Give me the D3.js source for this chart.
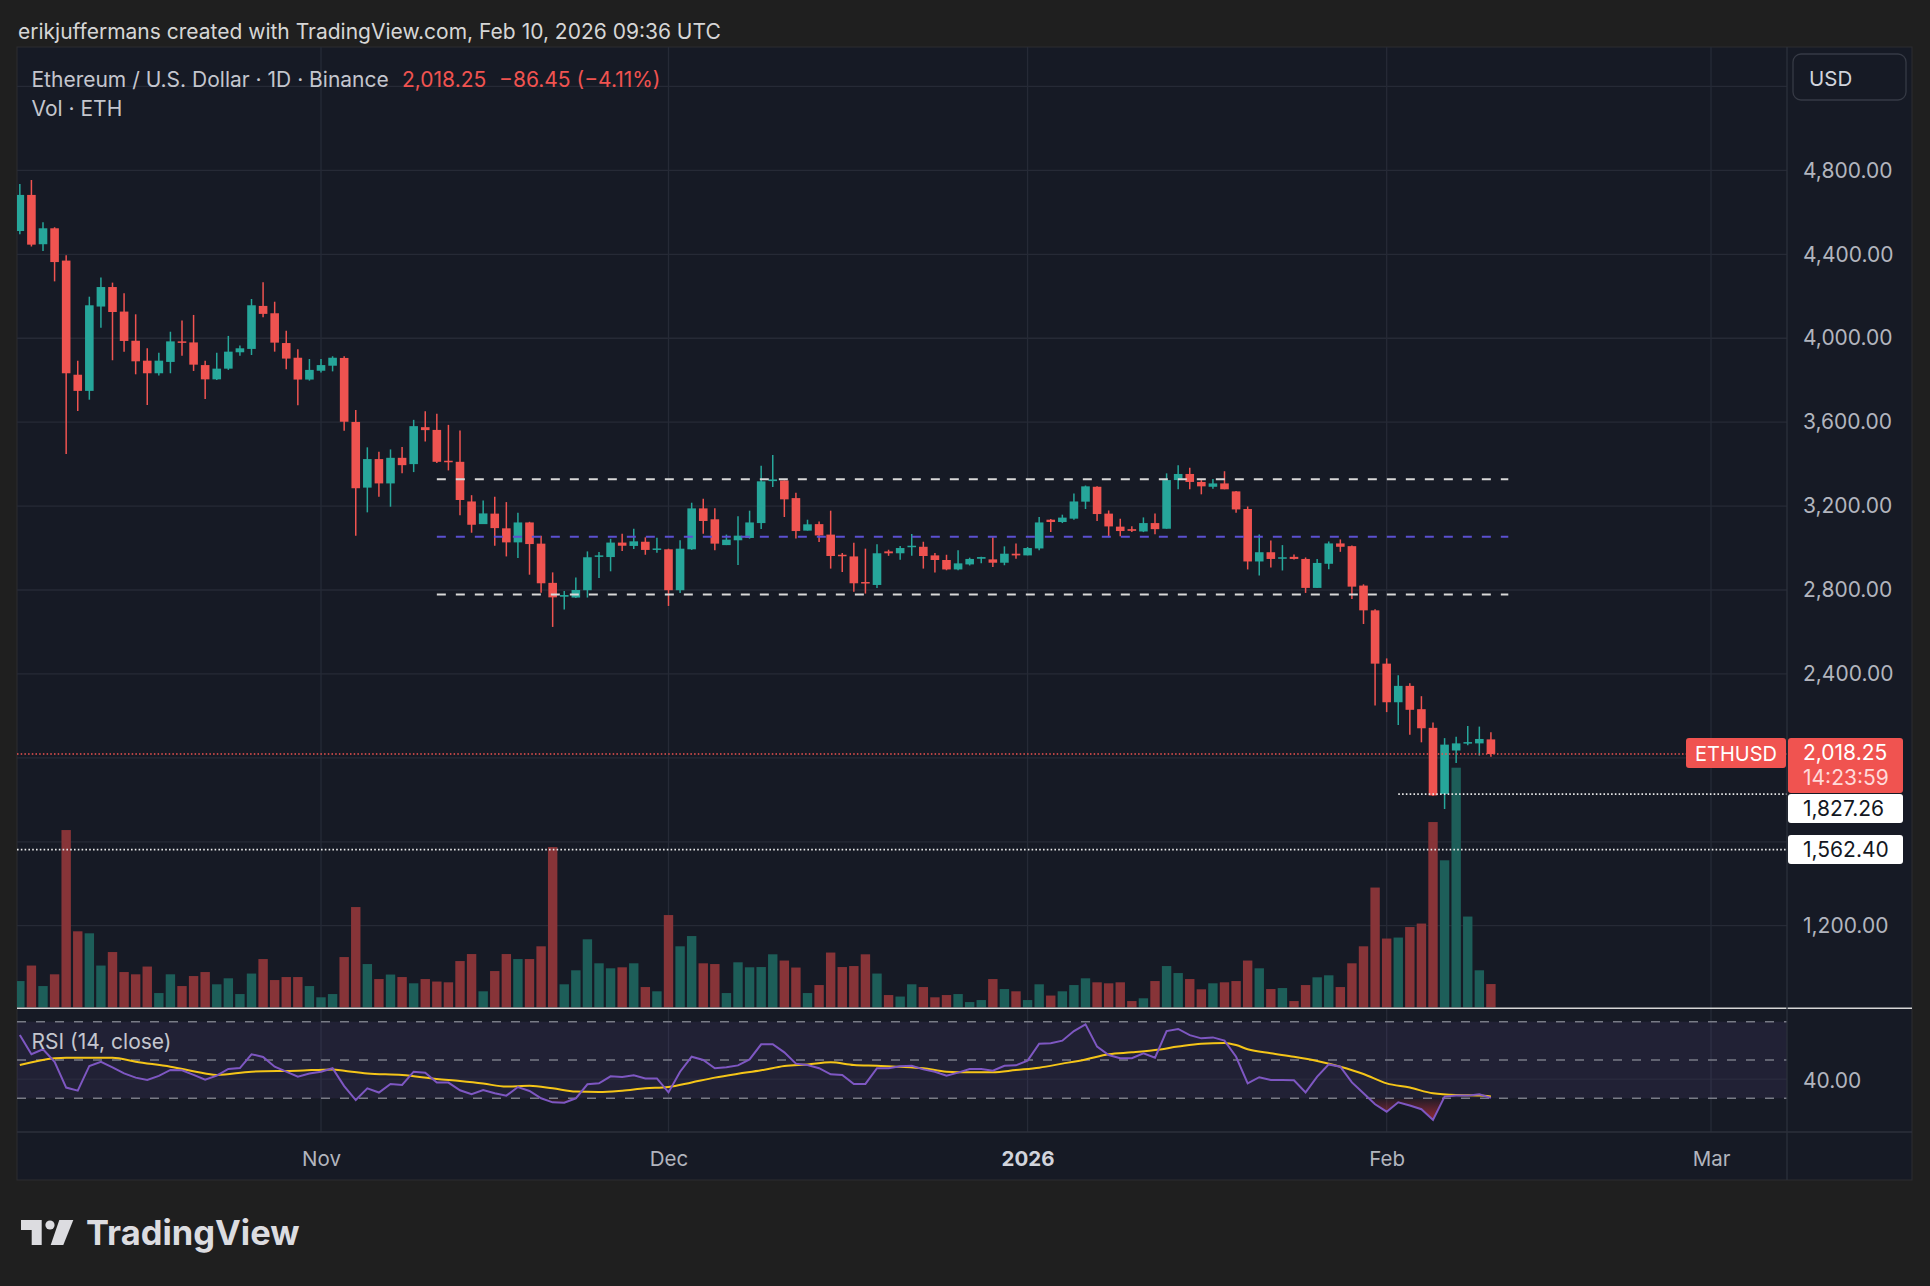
<!DOCTYPE html>
<html><head><meta charset="utf-8">
<script src="https://cdn.jsdelivr.net/npm/d3@7"></script>
<style>
html,body{margin:0;padding:0;background:#1f1f1f;}
svg{display:block;}
text{font-family:Inter,"Noto Sans",Roboto,sans-serif;}
</style>
</head><body>
<svg id="chart" width="1930" height="1286"></svg>
<script>
// ---------------- DATA ----------------
const startDate = "2025-10-06";   // first daily candle
const opens  = [4511,4683,4448,4524,4370,3826,3749,4151,4244,4127,3988,3893,3833,3887,3985,3980,3872,3804,3855,3933,3949,4154,4119,3977,3907,3803,3845,3869,3906,3601,3288,3424,3308,3430,3400,3576,3563,3416,3411,3222,3114,3164,3094,3027,3122,3021,2834,2768,2764,2799,2959,2957,3026,3010,3030,2991,2994,2799,2994,3189,3137,3014,3037,3048,3119,3319,3322,3238,3083,3114,3064,2968,2960,2838,2824,2984,2975,3005,3006,2965,2943,2898,2922,2949,2946,2930,2973,2965,2998,3135,3124,3140,3221,3292,3164,3102,3090,3079,3119,3092,3324,3353,3315,3292,3308,3270,3186,2936,2980,2950,2958,2948,2810,2925,3022,3009,2821,2703,2449,2265,2343,2232,2143,1828,2035,2069,2069,2088];
const highs  = [4735,4754,4553,4529,4395,3893,4198,4290,4265,4214,4114,3952,3931,4031,4085,4111,3893,3931,4011,3965,4187,4267,4174,4036,3947,3901,3901,3914,3914,3658,3480,3459,3470,3481,3611,3652,3640,3587,3560,3252,3227,3245,3219,3168,3125,3059,2884,2795,2860,2984,2981,3044,3068,3092,3051,3049,2997,3037,3216,3235,3190,3064,3152,3178,3392,3444,3322,3264,3135,3127,3178,2976,3025,2997,3018,2992,3010,3067,3030,2976,2968,2989,2954,2959,3052,3008,3022,3005,3148,3138,3159,3260,3298,3295,3179,3140,3104,3146,3165,3356,3394,3383,3324,3329,3366,3272,3198,3065,3036,3014,2969,2955,2948,3031,3041,3012,2827,2708,2474,2394,2356,2294,2168,2094,2101,2152,2149,2122];
const lows   = [4495,4437,4416,4271,3448,3653,3707,4050,3895,3936,3828,3682,3822,3833,3917,3844,3710,3801,3849,3917,3920,4100,3936,3852,3680,3798,3837,3842,3559,3059,3170,3245,3197,3357,3362,3508,3405,3370,3156,3073,3114,3011,2960,2952,2873,2787,2624,2707,2762,2764,2857,2889,2986,2995,2968,2978,2724,2786,2991,3068,2989,3014,2919,3045,3091,3291,3148,3045,3083,3029,2902,2886,2792,2783,2810,2963,2944,2963,2902,2884,2894,2894,2917,2927,2910,2918,2949,2965,2989,3076,3119,3135,3186,3129,3052,3056,3077,3076,3066,3092,3280,3280,3256,3283,3280,3168,2898,2869,2907,2893,2945,2786,2810,2899,2982,2757,2638,2250,2218,2157,2110,2074,1818,1756,1976,2060,2011,2005];
const closes = [4683,4446,4524,4363,3833,3749,4157,4244,4125,3987,3890,3833,3893,3985,3979,3874,3804,3855,3936,3952,4157,4116,3979,3903,3803,3849,3872,3907,3602,3285,3424,3308,3430,3395,3581,3562,3411,3410,3229,3111,3165,3095,3027,3122,3019,2832,2765,2776,2800,2956,2965,3026,3011,3032,2991,2998,2799,2997,3189,3129,3021,3040,3059,3122,3318,3327,3232,3081,3113,3060,2962,2962,2832,2832,2975,2975,3000,3011,2962,2943,2898,2927,2948,2957,2930,2973,2965,3000,3122,3124,3145,3222,3294,3162,3103,3081,3082,3119,3090,3324,3353,3315,3294,3308,3280,3184,2936,2980,2948,2956,2948,2810,2929,3022,3006,2816,2703,2449,2265,2343,2229,2141,1821,2063,2069,2075,2090,2018.25];
// daily volume, thousand ETH
const volumes = [210,334,170,264,1418,608,592,334,442,282,264,326,114,264,170,250,282,184,232,106,270,386,218,242,242,170,80,106,402,802,346,226,262,242,192,226,206,200,370,426,128,290,426,386,386,488,1282,184,296,544,352,312,320,352,162,128,738,488,570,352,346,114,360,320,322,424,374,318,114,178,438,322,330,424,270,98,86,184,162,80,98,106,42,58,226,146,128,58,184,94,128,178,232,200,192,200,50,72,210,330,274,226,144,192,200,210,374,312,146,154,50,178,240,256,162,352,488,958,550,558,642,670,1482,1176,1917,726,296,186];
// RSI (14, close)
const rsiValues = [63.0,53.0,55.6,49.1,35.6,34.0,46.9,49.1,46.2,43.0,40.8,39.6,41.7,44.8,44.6,42.2,39.7,41.8,45.3,45.8,53.0,51.6,46.5,43.9,41.3,42.9,43.9,45.7,36.4,29.1,35.2,33.0,37.5,37.0,43.9,43.4,38.3,38.2,34.2,32.1,34.3,32.6,31.4,35.9,33.8,30.0,27.9,27.7,30.0,37.3,37.8,41.5,41.1,42.0,40.4,40.4,33.1,43.9,51.7,50.0,45.7,46.2,47.2,50.3,58.2,58.2,54.0,48.1,47.4,45.7,42.5,42.2,37.5,37.5,45.7,45.7,46.7,47.0,45.1,43.9,41.8,43.4,45.3,45.3,44.4,47.0,47.2,49.7,58.5,58.7,60.1,65.1,68.6,57.0,52.6,50.9,50.9,53.5,51.2,65.1,66.2,63.0,61.3,61.8,60.1,51.7,37.8,41.0,39.6,39.6,39.4,33.1,41.3,47.7,46.5,38.3,32.6,26.9,23.0,27.9,26.2,24.3,18.7,30.9,31.4,31.4,32.1,30.2];
// RSI-based MA (points read where visible)
const rsiMaIndex  = [0,3,4,8,10,13,16,17,20,24,27,28,30,33,36,38,40,42,44,46,48,50,52,54,56,58,60,62,64,66,68,70,72,74,76,78,80,82,84,86,88,90,92,94,96,98,100,102,104,105,106,108,110,112,114,116,118,120,122,124,126,127];
const rsiMaValues = [47.4,50.9,51.2,51.2,49.1,46.5,43.0,42.2,43.9,44.4,45.1,44.4,43.0,42.2,40.1,39.0,37.7,36.1,36.5,35.2,33.5,33.3,34.0,35.2,35.9,38.3,40.8,42.8,44.6,46.9,47.7,48.8,47.4,47.0,46.5,45.7,43.9,43.6,43.6,44.8,46.0,48.1,50.3,53.0,54.0,55.2,57.0,58.5,58.9,57.8,55.6,53.5,51.7,49.5,46.5,42.7,37.8,35.6,32.6,31.7,31.5,31.0];
// price axis ticks and grid
const priceTicks = [5200,4800,4400,4000,3600,3200,2800,2400,2000,1600,1200];
const priceLabelTicks = [4800,4400,4000,3600,3200,2800,2400,1200];
const monthTicks  = ["2025-11-01","2025-12-01","2026-01-01","2026-02-01","2026-03-01"];
const monthLabels = ["Nov","Dec","2026","Feb","Mar"];
const rsiLevels = [70,50,30];
const rsiLabelTicks = [40];
// drawn horizontal range levels
const rangeLevelPrices = [3328,3054,2779];
const rangeLevelColors = ["#d8d8d8","#5b50d0","#d8d8d8"];
const rangeStart = "2025-11-11", rangeEnd = "2026-02-11T12:00:00Z";
const lastPrice = 2018.25, lastChange = -86.45, lastChangePct = -4.11;
const countdown = "14:23:59";
const lowMark1 = 1827.26, lowMark1Start = "2026-02-02";
const lowMark2 = 1562.40;

// ---------------- LAYOUT ----------------
const W = 1930, H = 1286;
const P = {left:17, top:47, right:1912, bottom:1180};
const plotRight = 1787;
const pricePaneBottom = 1008.3;
const rsiTop = 1010, rsiBottom = 1132;
const UP = "#26a69a", DOWN = "#ef5350";
const UPV = "#1d5e59", DOWNV = "#873438";
const GRID = "#262a36";
const TXT = "#b2b5be";

const svg = d3.select("#chart");
const defs = svg.append("defs");

const parse = s => new Date(s.length === 10 ? s + "T00:00:00Z" : s);
const day0 = parse(startDate);
const dates = closes.map((_, i) => d3.utcDay.offset(day0, i));

const x = d3.scaleUtc().domain([parse("2025-11-01"), parse("2026-03-01")]).range([321, 1711]);
const yP = d3.scaleLinear().domain([4400, 2800]).range([254.3, 590]);
const yV = d3.scaleLinear().domain([0, 1000]).range([1007.3, 882.3]);
const yR = d3.scaleLinear().domain([30, 70]).range([1098.3, 1021.7]);

// background
svg.append("rect").attr("width", W).attr("height", H).attr("fill", "#1f1f1f");
svg.append("rect").attr("x", P.left).attr("y", P.top).attr("width", P.right - P.left).attr("height", P.bottom - P.top)
  .attr("fill", "#161a25").attr("stroke", "#2c2c30").attr("stroke-width", 1);

// clip paths
defs.append("clipPath").attr("id", "clipPrice").append("rect")
  .attr("x", P.left).attr("y", P.top).attr("width", plotRight - P.left).attr("height", pricePaneBottom - P.top);
defs.append("clipPath").attr("id", "clipRsi").append("rect")
  .attr("x", P.left).attr("y", rsiTop).attr("width", plotRight - P.left).attr("height", rsiBottom - rsiTop);

// grid lines
const grid = svg.append("g");
grid.selectAll("line.h").data(priceTicks).join("line")
  .attr("x1", P.left).attr("x2", plotRight).attr("y1", d => yP(d)).attr("y2", d => yP(d))
  .attr("stroke", GRID).attr("stroke-width", 1.3);
grid.selectAll("line.v").data(monthTicks.map(parse)).join("line")
  .attr("x1", d => x(d)).attr("x2", d => x(d)).attr("y1", P.top).attr("y2", rsiBottom)
  .attr("stroke", GRID).attr("stroke-width", 1.3);

// RSI band
const rsiG = svg.append("g").attr("clip-path", "url(#clipRsi)");
rsiG.append("rect").attr("x", P.left).attr("width", plotRight - P.left)
  .attr("y", yR(70)).attr("height", yR(30) - yR(70)).attr("fill", "rgba(126,87,194,0.11)");
rsiG.selectAll("line.g40").data(rsiLabelTicks).join("line")
  .attr("x1", P.left).attr("x2", plotRight).attr("y1", d => yR(d)).attr("y2", d => yR(d))
  .attr("stroke", "#2d2f40").attr("stroke-width", 1);
rsiG.selectAll("line.lv").data(rsiLevels).join("line")
  .attr("x1", P.left).attr("x2", plotRight).attr("y1", d => yR(d)).attr("y2", d => yR(d))
  .attr("stroke", "#787b86").attr("stroke-width", 1.5).attr("stroke-dasharray", "9,10");

// oversold fill
const grad = defs.append("linearGradient").attr("id", "osGrad").attr("gradientUnits", "userSpaceOnUse")
  .attr("x1", 0).attr("x2", 0).attr("y1", yR(30)).attr("y2", yR(15));
grad.append("stop").attr("offset", 0).attr("stop-color", "#f23645").attr("stop-opacity", 0.05);
grad.append("stop").attr("offset", 1).attr("stop-color", "#f23645").attr("stop-opacity", 0.75);
defs.append("clipPath").attr("id", "clipOS").append("rect")
  .attr("x", P.left).attr("y", yR(30)).attr("width", plotRight - P.left).attr("height", rsiBottom - yR(30));
rsiG.append("g").attr("clip-path", "url(#clipOS)").append("path")
  .attr("d", d3.area().x((d, i) => x(dates[i])).y0(yR(30)).y1(d => yR(d))(rsiValues))
  .attr("fill", "url(#osGrad)");

rsiG.append("path")
  .attr("d", d3.line().x((d, i) => x(dates[rsiMaIndex[i]])).y(d => yR(d)).curve(d3.curveMonotoneX)(rsiMaValues))
  .attr("fill", "none").attr("stroke", "#f5c518").attr("stroke-width", 2);
rsiG.append("path")
  .attr("d", d3.line().x((d, i) => x(dates[i])).y(d => yR(d))(rsiValues))
  .attr("fill", "none").attr("stroke", "#7e57c2").attr("stroke-width", 2);

// price pane
const pg = svg.append("g").attr("clip-path", "url(#clipPrice)");
const bw = 8.6;
// volume
pg.selectAll("rect.vol").data(volumes).join("rect")
  .attr("x", (d, i) => x(dates[i]) - 4.7).attr("width", 9.4)
  .attr("y", d => yV(d)).attr("height", d => yV(0) - yV(d))
  .attr("fill", (d, i) => closes[i] >= opens[i] ? UPV : DOWNV);

// candles
const cg = pg.append("g");
const idx = d3.range(closes.length);
cg.selectAll("line.wick").data(idx).join("line")
  .attr("x1", i => x(dates[i])).attr("x2", i => x(dates[i]))
  .attr("y1", i => yP(highs[i])).attr("y2", i => yP(lows[i]))
  .attr("stroke", i => closes[i] >= opens[i] ? UP : DOWN).attr("stroke-width", 1.5);
cg.selectAll("rect.body").data(idx).join("rect")
  .attr("x", i => x(dates[i]) - bw / 2).attr("width", bw)
  .attr("y", i => yP(Math.max(opens[i], closes[i])))
  .attr("height", i => Math.max(1.5, Math.abs(yP(opens[i]) - yP(closes[i]))))
  .attr("fill", i => closes[i] >= opens[i] ? UP : DOWN);

// range levels
pg.selectAll("line.rl").data(rangeLevelPrices).join("line")
  .attr("x1", x(parse(rangeStart))).attr("x2", x(parse(rangeEnd)))
  .attr("y1", d => yP(d)).attr("y2", d => yP(d))
  .attr("stroke", (d, i) => rangeLevelColors[i]).attr("stroke-width", 2).attr("stroke-dasharray", "9,10");

// price lines
pg.append("line").attr("x1", P.left).attr("x2", plotRight).attr("y1", yP(lastPrice)).attr("y2", yP(lastPrice))
  .attr("stroke", DOWN).attr("stroke-width", 1.5).attr("stroke-dasharray", "1.5,2.2");
pg.append("line").attr("x1", x(parse(lowMark1Start))).attr("x2", plotRight).attr("y1", yP(lowMark1)).attr("y2", yP(lowMark1))
  .attr("stroke", "#e8e8e8").attr("stroke-width", 1.6).attr("stroke-dasharray", "1.6,2.2");
pg.append("line").attr("x1", P.left).attr("x2", plotRight).attr("y1", yP(lowMark2)).attr("y2", yP(lowMark2))
  .attr("stroke", "#e8e8e8").attr("stroke-width", 1.6).attr("stroke-dasharray", "1.6,2.2");

// pane separators
svg.append("line").attr("x1", P.left).attr("x2", P.right).attr("y1", pricePaneBottom).attr("y2", pricePaneBottom)
  .attr("stroke", "#d6d6d6").attr("stroke-width", 1.6);
svg.append("line").attr("x1", P.left).attr("x2", P.right).attr("y1", rsiBottom).attr("y2", rsiBottom)
  .attr("stroke", "#2c303b").attr("stroke-width", 1.3);
svg.append("line").attr("x1", plotRight).attr("x2", plotRight).attr("y1", P.top).attr("y2", P.bottom)
  .attr("stroke", "#2c303b").attr("stroke-width", 1.3);

// price axis
const pAxis = svg.append("g").attr("transform", `translate(${plotRight},0)`)
  .call(d3.axisRight(yP).tickValues(priceLabelTicks).tickFormat(d3.format(",.2f")).tickSize(0).tickPadding(16));
pAxis.select(".domain").remove();
pAxis.selectAll("text").attr("fill", TXT).style("font-size", "21px");

// RSI axis
const rAxis = svg.append("g").attr("transform", `translate(${plotRight},0)`)
  .call(d3.axisRight(yR).tickValues(rsiLabelTicks).tickFormat(d3.format(".2f")).tickSize(0).tickPadding(16));
rAxis.select(".domain").remove();
rAxis.selectAll("text").attr("fill", TXT).style("font-size", "21px").attr("dy", "0.42em");

// time axis
const tAxis = svg.append("g").attr("transform", `translate(0,${rsiBottom})`)
  .call(d3.axisBottom(x).tickValues(monthTicks.map(parse)).tickFormat((d, i) => monthLabels[i]).tickSize(0).tickPadding(19.5));
tAxis.select(".domain").remove();
tAxis.selectAll("text").attr("fill", TXT).style("font-size", "20.5px")
  .style("font-weight", (d, i) => monthLabels[i] === "2026" ? 700 : 400)
  .attr("fill", (d, i) => monthLabels[i] === "2026" ? "#d1d4dc" : TXT);

// labels on the price axis
const fmt = d3.format(",.2f");
const lbl = svg.append("g");
lbl.append("rect").attr("x", 1686).attr("y", 738).attr("width", 100).attr("height", 30).attr("rx", 3).attr("fill", "#f05350");
lbl.append("text").attr("x", 1736).attr("y", 753.5).attr("text-anchor", "middle").attr("dominant-baseline", "central")
  .attr("fill", "#ffffff").style("font-size", "20px").text("ETHUSD");
lbl.append("rect").attr("x", 1788).attr("y", 738).attr("width", 115).attr("height", 55).attr("rx", 3).attr("fill", "#f05350");
lbl.append("text").attr("x", 1803).attr("y", 752).attr("dominant-baseline", "central")
  .attr("fill", "#ffffff").style("font-size", "21px").text(fmt(lastPrice));
lbl.append("text").attr("x", 1803).attr("y", 777).attr("dominant-baseline", "central")
  .attr("fill", "#ffd9d9").style("font-size", "21px").text(countdown);
lbl.append("rect").attr("x", 1788).attr("y", 794).attr("width", 115).attr("height", 29).attr("rx", 3).attr("fill", "#ffffff");
lbl.append("text").attr("x", 1803).attr("y", 808.5).attr("dominant-baseline", "central")
  .attr("fill", "#131722").style("font-size", "21px").text(fmt(lowMark1));
lbl.append("rect").attr("x", 1788).attr("y", 835).attr("width", 115).attr("height", 29).attr("rx", 3).attr("fill", "#ffffff");
lbl.append("text").attr("x", 1803).attr("y", 849.5).attr("dominant-baseline", "central")
  .attr("fill", "#131722").style("font-size", "21px").text(fmt(lowMark2));

// USD button
svg.append("rect").attr("x", 1793).attr("y", 54).attr("width", 113).attr("height", 46).attr("rx", 8)
  .attr("fill", "#161a25").attr("stroke", "#363a45").attr("stroke-width", 1.3);
svg.append("text").attr("x", 1809).attr("y", 78).attr("dominant-baseline", "central")
  .attr("fill", "#d1d4dc").style("font-size", "20.5px").text("USD");

// header
svg.append("text").attr("x", 18).attr("y", 31.5).attr("dominant-baseline", "central")
  .attr("fill", "#d6d6d6").style("font-size", "21px")
  .text("erikjuffermans created with TradingView.com, Feb 10, 2026 09:36 UTC");

// legend
const leg = svg.append("text").attr("y", 79.3).attr("dominant-baseline", "central").style("font-size", "21px");
leg.append("tspan").attr("x", 31.5).attr("fill", "#c4c6ce").text("Ethereum / U.S. Dollar · 1D · Binance");
leg.append("tspan").attr("x", 402).attr("fill", "#f05350").text(fmt(lastPrice));
leg.append("tspan").attr("x", 499).attr("fill", "#f05350")
  .text("\u2212" + fmt(Math.abs(lastChange)) + " (\u2212" + Math.abs(lastChangePct).toFixed(2) + "%)");
svg.append("text").attr("x", 31.5).attr("y", 108.7).attr("dominant-baseline", "central")
  .attr("fill", "#c4c6ce").style("font-size", "21px").text("Vol · ETH");
svg.append("text").attr("x", 31.5).attr("y", 1041.7).attr("dominant-baseline", "central")
  .attr("fill", "#c4c6ce").style("font-size", "21px").text("RSI (14, close)");

// TradingView logo
const logo = svg.append("g").attr("fill", "#dcdce0");
logo.append("path").attr("d", "M21,1220 H41.7 V1245 H31.7 V1230 H21 Z");
logo.append("circle").attr("cx", 50).attr("cy", 1225).attr("r", 4.6);
logo.append("path").attr("d", "M59.3,1220 H73.3 L63.3,1245 H50.7 Z");
svg.append("text").attr("x", 86).attr("y", 1232).attr("dominant-baseline", "central")
  .attr("fill", "#dcdce0").style("font-size", "34.5px").style("font-weight", 700)
  .text("TradingView");
</script>
</body></html>
